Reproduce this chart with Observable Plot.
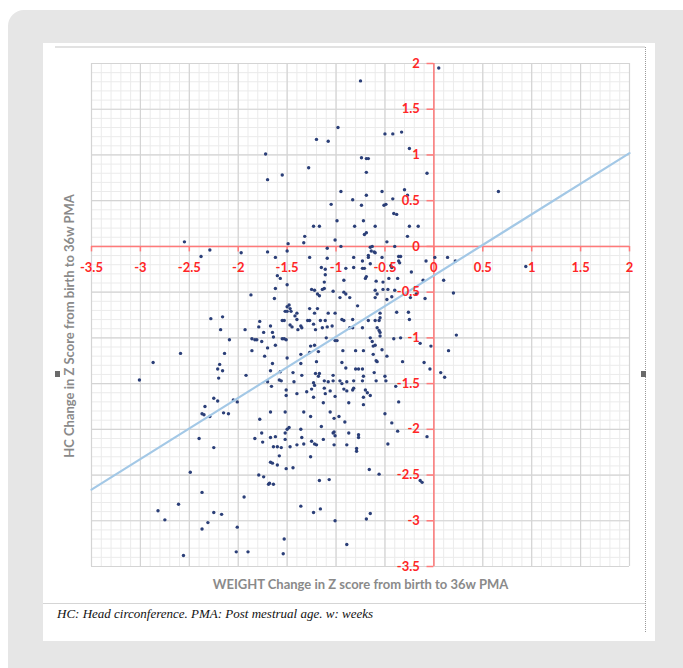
<!DOCTYPE html>
<html><head><meta charset="utf-8">
<script src="https://cdn.jsdelivr.net/npm/d3@7"></script>
<script src="https://cdn.jsdelivr.net/npm/@observablehq/plot@0.6"></script>
<style>
html,body{margin:0;padding:0;background:#fff;width:683px;height:668px;overflow:hidden;position:relative;font-family:Lato,sans-serif}
#card{position:absolute;left:8px;top:10px;width:690px;height:720px;background:#e6e6e6;border-radius:16px}
#panel{position:absolute;left:43px;top:43px;width:612px;height:598px;background:#fff}
#topline{position:absolute;left:55px;top:46px;width:590px;height:0;border-top:2px solid #e2e2e2}
#dotline{position:absolute;left:645px;top:47px;height:585px;border-left:1px dotted #9a9a9a}
#capline{position:absolute;left:43px;top:603px;width:602px;height:0;border-top:1px solid #d5d5d5}
#caption{position:absolute;left:57px;top:606px;font:italic 13px "Liberation Serif",serif;color:#111;white-space:nowrap}
.handle{position:absolute;width:5px;height:6px;background:#6a6a6a}
#chart{position:absolute;left:43px;top:43px}
</style></head><body>
<div id="card"></div>
<div id="panel"></div>
<div id="topline"></div>
<div id="dotline"></div>
<div id="capline"></div>
<div class="handle" style="left:55px;top:371px"></div>
<div class="handle" style="left:641px;top:371px"></div>
<div id="chart"></div>
<div id="caption">HC: Head circonference. PMA: Post mestrual age. w: weeks</div>
<script>
const xTitle = "WEIGHT Change in Z score from birth to 36w PMA";
const yTitle = "HC Change in Z Score from birth to 36w PMA";
const caption = "HC: Head circonference. PMA: Post mestrual age. w: weeks";

const majorTicks = [-3.5, -3, -2.5, -2, -1.5, -1, -0.5, 0, 0.5, 1, 1.5, 2];
const tickLabels = ["-3.5", "-3", "-2.5", "-2", "-1.5", "-1", "-0.5", "0", "0.5", "1", "1.5", "2"];
const minorTicks = d3.range(-35, 21).map(i => i / 10);

// Trend line end points
const trendX = [-3.5, 2];
const trendY = [-2.66, 1.02];

// WEIGHT change in Z score (x) for each infant
const weightZ = [
-0.98,-1.20,-1.08,-1.72,-1.70,-1.55,-1.28,-1.05,-0.99,-1.23,
-1.17,-1.32,-1.33,-1.01,-1.49,-2.55,-2.38,-2.29,-1.97,-1.70,
-1.62,-1.50,-1.27,-1.09,-1.09,-1.15,-1.11,-1.60,-1.57,-1.11,
-1.12,-1.50,-1.62,-1.25,-1.22,-1.14,-1.12,-1.19,-1.17,-1.87,
-1.63,0.05,-0.75,-0.50,-0.42,-0.33,-0.25,-0.74,-0.69,-0.67,
-0.69,-0.07,-0.95,-0.53,-0.69,-0.30,-0.27,-0.83,-0.74,-0.51,
-0.49,-0.42,-0.41,-0.38,-0.81,-0.60,-0.72,-0.69,-0.71,-0.25,
-0.16,-0.27,-0.48,-0.40,-0.65,-0.63,-0.64,-0.61,-0.60,-0.95,
-0.36,-0.34,-0.82,-0.73,-0.73,-0.71,-0.90,0.01,0.14,0.22,
0.94,0.66,0.10,-0.52,-0.46,-0.37,-0.69,-0.70,-0.60,-0.52,
-0.47,-0.40,-0.11,-0.09,-0.18,0.20,-0.58,-1.48,-1.50,-1.47,
-1.52,-1.50,-1.46,-1.27,-1.19,-1.22,-1.40,-1.42,-1.40,-1.55,
-1.53,-1.47,-1.45,-1.29,-1.27,-1.36,-1.35,-1.39,-2.28,-2.16,
-2.18,-1.93,-1.78,-1.79,-1.67,-1.65,-1.74,-1.86,-1.83,-1.81,
-1.76,-1.55,-1.53,-1.51,-1.62,-2.09,-2.14,-1.86,-1.70,-1.50,
-1.36,-0.67,-0.67,-0.53,-0.65,-0.36,-0.35,-0.08,-0.82,-0.44,
-0.43,-0.23,-0.92,-0.59,-1.03,-0.92,-0.90,-0.96,-0.86,-0.60,
-0.48,-0.43,-0.24,-1.08,-1.01,-0.94,-0.92,-0.83,-0.78,-0.67,
-0.60,-0.56,-0.55,-0.55,-0.38,-0.26,-0.25,-1.16,-1.11,-1.14,
-1.09,-1.04,-1.23,-1.21,-0.86,-0.83,-0.73,-0.58,-0.56,-0.55,
-0.65,-1.01,-0.99,-1.26,-1.22,-1.10,-0.93,-0.80,-0.72,-0.62,
-0.60,-0.53,-0.34,-0.03,-1.64,-2.59,-2.87,-3.01,-1.73,-1.36,
-1.27,-1.18,-1.20,-1.65,-2.19,-2.21,-2.16,-2.20,-1.92,-1.67,
-1.57,-1.58,-1.56,-1.70,-1.66,-1.44,-1.43,-1.35,-1.51,-1.51,
-1.40,-1.30,-1.23,-1.23,-1.21,-1.17,-1.08,-1.12,-1.11,-1.06,
-2.25,-2.21,-2.34,-2.37,-2.35,-2.29,-2.15,-2.10,-2.05,-2.01,
-1.78,-1.76,-1.67,-1.52,-1.33,-1.26,-1.06,-1.02,-2.40,-2.25,
-2.49,-2.37,-2.61,-2.82,-2.75,-2.25,-2.17,-2.37,-2.31,-2.01,
-2.56,-2.02,-1.90,-1.94,-1.53,-1.54,-1.83,-1.75,-1.67,-1.62,
-1.64,-1.60,-1.56,-1.47,-1.52,-1.50,-1.48,-1.52,-1.58,-1.60,
-1.67,-1.65,-1.51,-1.44,-1.35,-1.36,-1.40,-1.22,-1.20,-1.26,
-1.15,-1.13,-1.03,-1.02,-1.02,-1.79,-1.74,-1.69,-1.68,-1.64,
-1.17,-1.07,-1.36,-1.23,-1.16,-1.01,-1.25,-1.25,-1.33,-0.94,
-0.90,-0.80,-0.77,-0.73,-0.58,-0.32,-0.10,-0.04,-1.18,-1.22,
-1.12,-1.03,-1.03,-0.96,-0.94,-0.89,-0.82,-0.73,-0.72,-0.61,
-0.59,-0.50,-0.49,-0.92,-0.89,-0.83,-0.82,-0.70,-0.68,-1.01,
-0.72,-0.65,-1.13,-0.87,-0.72,-0.36,-0.97,-0.91,-0.50,-0.43,
-1.01,-0.87,-0.77,-0.77,-0.37,-0.07,-0.89,-0.79,-0.79,-0.47,
-0.66,-0.56,-0.14,-0.12,-0.55,-0.63,-0.41,-0.14,0.23,0.15,
0.07,0.11,-0.48,-0.59,-0.62,-0.39,-0.65,-0.69,-0.89
];

// HC change in Z score (y) for each infant, same order
const hcZ = [
1.30,1.17,1.15,1.01,0.73,0.78,0.86,0.46,0.28,0.22,
0.22,0.11,0.04,0.07,0.03,0.05,-0.11,-0.04,-0.07,-0.06,
-0.12,-0.05,-0.12,-0.02,-0.13,-0.23,-0.25,-0.32,-0.35,-0.31,
-0.39,-0.42,-0.46,-0.47,-0.48,-0.47,-0.46,-0.52,-0.54,-0.53,
-0.57,1.95,1.81,1.23,1.23,1.25,1.07,0.97,0.96,0.96,
0.81,0.80,0.60,0.60,0.56,0.62,0.56,0.51,0.45,0.45,
0.46,0.52,0.36,0.35,0.22,0.22,0.28,0.15,0.13,0.22,
0.22,0.11,0.05,0.00,-0.01,0.00,-0.05,-0.06,-0.07,0.00,
-0.11,-0.11,-0.12,-0.16,-0.24,-0.24,-0.24,-0.12,-0.12,-0.16,
-0.22,0.60,-0.37,-0.39,-0.35,-0.35,-0.33,-0.35,-0.48,-0.47,
-0.47,-0.48,-0.37,-0.57,-0.52,-0.51,-0.52,-0.64,-0.66,-0.68,
-0.71,-0.71,-0.71,-0.68,-0.68,-0.73,-0.73,-0.76,-0.80,-0.81,
-0.81,-0.86,-0.88,-0.81,-0.81,-0.87,-0.89,-0.91,-0.79,-0.77,
-0.91,-0.91,-0.82,-0.88,-0.87,-0.94,-0.94,-1.01,-1.02,-1.02,
-1.04,-1.01,-1.01,-1.02,-1.08,-1.02,-1.17,-1.14,-1.11,-1.22,
-1.18,-0.10,-0.12,-0.12,-0.19,-0.16,-0.18,-0.16,-0.23,-0.21,
-0.23,-0.28,-0.37,-0.38,-0.49,-0.50,-0.52,-0.56,-0.56,-0.56,
-0.58,-0.55,-0.56,-0.73,-0.73,-0.80,-0.81,-0.80,-0.65,-0.81,
-0.81,-0.81,-0.78,-0.73,-0.72,-0.72,-0.80,-0.81,-0.81,-0.89,
-0.88,-0.87,-0.85,-0.91,-0.89,-0.89,-0.89,-0.89,-0.92,-0.94,
-1.00,-1.03,-1.03,-1.09,-1.08,-1.00,-1.14,-1.14,-1.14,-1.09,
-1.08,-1.13,-1.00,-1.09,-0.99,-1.17,-1.27,-1.46,-1.20,-1.28,
-1.16,-1.15,-1.26,-1.28,-1.29,-1.34,-1.36,-1.44,-1.41,-1.36,
-1.37,-1.46,-1.47,-1.48,-1.53,-1.38,-1.48,-1.41,-1.57,-1.63,
-1.61,-1.59,-1.65,-1.49,-1.39,-1.39,-1.48,-1.55,-1.61,-1.58,
-1.66,-1.69,-1.75,-1.83,-1.84,-1.86,-1.82,-1.83,-1.68,-1.70,
-1.89,-2.04,-1.81,-1.81,-1.81,-1.86,-1.81,-1.88,-2.10,-2.20,
-2.47,-2.69,-2.82,-2.89,-2.99,-2.91,-2.93,-3.09,-3.02,-3.07,
-3.38,-3.34,-3.34,-2.74,-3.20,-3.36,-2.10,-2.14,-2.09,-2.08,
-2.19,-2.19,-2.20,-2.19,-2.11,-2.00,-1.98,-2.04,-2.29,-2.39,
-2.36,-2.37,-2.43,-2.42,-2.09,-2.00,-2.17,-2.16,-2.17,-2.30,
-1.97,-2.11,-2.04,-2.03,-2.17,-2.50,-2.52,-2.60,-2.59,-2.60,
-2.56,-2.55,-2.84,-2.91,-2.87,-3.00,-1.56,-2.13,-2.16,-1.27,
-1.33,-1.34,-1.34,-1.34,-1.26,-1.26,-1.27,-1.34,-1.42,-1.52,
-1.47,-1.47,-1.41,-1.47,-1.50,-1.48,-1.47,-1.47,-1.42,-1.38,
-1.47,-1.42,-1.47,-1.56,-1.58,-1.57,-1.55,-1.57,-1.60,-1.64,
-1.65,-1.63,-1.71,-1.71,-1.73,-1.70,-1.86,-1.92,-1.83,-1.93,
-2.07,-2.04,-2.06,-2.09,-2.02,-2.08,-2.17,-2.21,-2.24,-2.16,
-2.44,-2.49,-2.56,-2.58,-0.98,-1.04,-1.01,-1.06,-0.97,-1.14,
-1.38,-1.43,-1.20,-1.25,-1.18,-1.53,-2.92,-2.98,-3.26
];

const red = "#ff2626";
const axisRed = "#ff7a7a";

const chart = Plot.plot({
  width: 612,
  height: 560,
  marginLeft: 48,
  marginRight: 26,
  marginTop: 20,
  marginBottom: 37,
  x: {domain: [-3.5, 2], axis: null},
  y: {domain: [-3.5, 2], axis: null},
  style: {background: "transparent", fontFamily: "Lato, sans-serif", overflow: "visible"},
  marks: [
    Plot.ruleX(minorTicks, {stroke: "#ebebeb", strokeWidth: 1}),
    Plot.ruleY(minorTicks, {stroke: "#ebebeb", strokeWidth: 1}),
    Plot.ruleX(majorTicks, {stroke: "#d4d4d4", strokeWidth: 1.2}),
    Plot.ruleY(majorTicks, {stroke: "#d4d4d4", strokeWidth: 1.2}),
    Plot.ruleY([0], {stroke: axisRed, strokeWidth: 1.5}),
    Plot.ruleX([0], {stroke: axisRed, strokeWidth: 1.5}),
    Plot.ruleX(majorTicks, {x: d => d, y1: 0, y2: -0.06, stroke: axisRed, strokeWidth: 1.5}),
    Plot.ruleY(majorTicks, {y: d => d, x1: -0.07, x2: 0, stroke: axisRed, strokeWidth: 1.5}),
    Plot.dot(weightZ, {x: weightZ, y: hcZ, r: 1.7, fill: "#2b3f78", stroke: "none"}),
    Plot.line(trendX, {x: trendX, y: trendY, stroke: "#a3c8e6", strokeWidth: 2.2}),
    Plot.text(majorTicks, {x: d => d, y: 0, text: tickLabels, dy: 21, fill: red, fontSize: 13, fontWeight: "bold"}),
    Plot.text(majorTicks, {x: 0, y: d => d, text: tickLabels, dx: -14, textAnchor: "end", fill: red, fontSize: 13, fontWeight: "bold"}),
    Plot.text([xTitle], {frameAnchor: "bottom", textAnchor: "middle", text: d => d, dy: 22, fill: "#8a8a8a", fontSize: 13, fontWeight: "bold"}),
    Plot.text([yTitle], {frameAnchor: "left", textAnchor: "middle", text: d => d, rotate: -90, dx: -22, dy: 11, fill: "#8a8a8a", fontSize: 13, fontWeight: "bold"})
  ]
});
document.getElementById("chart").appendChild(chart);
document.getElementById("caption").textContent = caption;
</script>
</body></html>
